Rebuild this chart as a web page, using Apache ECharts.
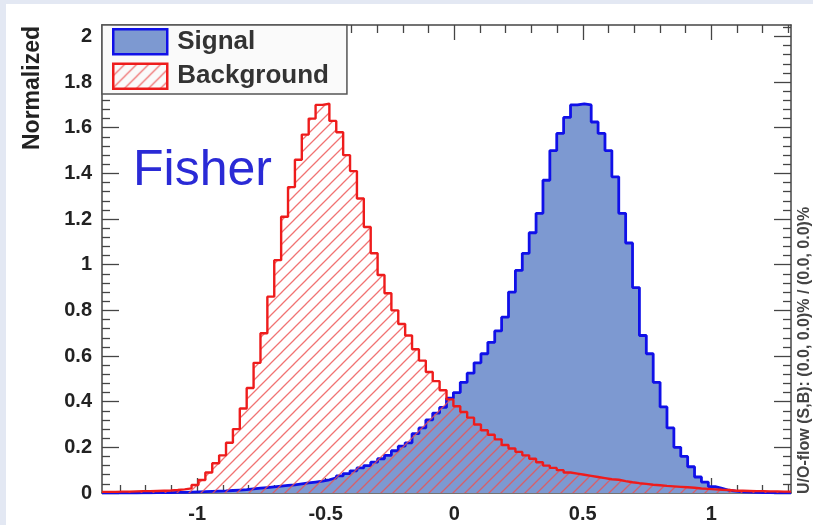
<!DOCTYPE html>
<html>
<head>
<meta charset="utf-8">
<script src="https://cdn.jsdelivr.net/npm/echarts@6/dist/echarts.min.js"></script>
<style>
html,body{margin:0;padding:0;background:#e3e8f3;width:813px;height:525px;overflow:hidden;}
#chart{position:absolute;left:6px;top:4px;width:807px;height:521px;background:#ffffff;}
</style>
</head>
<body>
<div id="chart"></div>
<script>
// ---- histogram range (Fisher discriminant), 100 bins ----
const xMin = -1.37;
const xMax = 1.31;
const nBins = 100;

// ---- bin contents ----
const signal = [
  0.000,0.000,0.000,0.000,0.000,0.001,0.001,0.002,0.002,0.002,
  0.003,0.003,0.004,0.005,0.006,0.007,0.008,0.009,0.011,0.013,
  0.015,0.018,0.021,0.024,0.027,0.030,0.033,0.036,0.040,0.044,
  0.048,0.052,0.058,0.066,0.075,0.085,0.097,0.110,0.120,0.135,
  0.150,0.165,0.185,0.205,0.220,0.260,0.285,0.320,0.350,0.375,
  0.415,0.440,0.485,0.525,0.570,0.610,0.660,0.710,0.770,0.880,
  0.975,1.050,1.140,1.225,1.370,1.500,1.575,1.645,1.700,1.705,
  1.700,1.625,1.575,1.500,1.385,1.225,1.095,0.900,0.690,0.610,
  0.485,0.377,0.285,0.200,0.160,0.115,0.070,0.048,0.028,0.020,
  0.012,0.008,0.005,0.004,0.003,0.002,0.002,0.001,0.001,0.001
];
const background = [
  0.005,0.005,0.006,0.006,0.007,0.008,0.008,0.009,0.010,0.011,
  0.013,0.016,0.020,0.035,0.057,0.090,0.130,0.165,0.220,0.280,
  0.370,0.460,0.570,0.700,0.860,1.020,1.210,1.340,1.460,1.570,
  1.640,1.700,1.705,1.630,1.580,1.480,1.410,1.290,1.165,1.050,
  0.955,0.875,0.800,0.740,0.690,0.630,0.580,0.530,0.490,0.450,
  0.410,0.380,0.355,0.330,0.300,0.275,0.255,0.235,0.210,0.195,
  0.180,0.165,0.150,0.135,0.120,0.110,0.100,0.090,0.085,0.080,
  0.075,0.070,0.065,0.060,0.058,0.052,0.047,0.043,0.040,0.036,
  0.034,0.031,0.029,0.027,0.025,0.023,0.020,0.018,0.016,0.014,
  0.013,0.010,0.010,0.009,0.008,0.008,0.007,0.007,0.006,0.006
];

// ---- axes / ticks ----
const yMin = 0;
const yMax = 2.05;
const xMajorTicks = [-1, -0.5, 0, 0.5, 1];
const xMinorTicks = [-1.3,-1.2,-1.1,-0.9,-0.8,-0.7,-0.6,-0.4,-0.3,-0.2,-0.1,
                     0.1,0.2,0.3,0.4,0.6,0.7,0.8,0.9,1.1,1.2,1.3];
const yMajorTicks = [0, 0.2, 0.4, 0.6, 0.8, 1, 1.2, 1.4, 1.6, 1.8, 2];
const yMinorTicks = [];
for (let i = 1; i <= 51; i++) { if (i % 5 !== 0) yMinorTicks.push(+(i * 0.04).toFixed(2)); }

const seriesNames = ['Signal', 'Background'];
const methodLabel = 'Fisher';
const yTitle = 'Normalized';
const overflowText = 'U/O-flow (S,B): (0.0, 0.0)% / (0.0, 0.0)%';

// build histogram step points at bin edges
function histPoints(vals) {
  const w = (xMax - xMin) / nBins;
  const pts = vals.map((v, i) => [xMin + i * w, v]);
  pts.push([xMax, vals[vals.length - 1]]);
  return pts;
}

// hatch pattern for background
const hatch = document.createElement('canvas');
hatch.width = 12; hatch.height = 12;
(function () {
  const c = hatch.getContext('2d');
  c.strokeStyle = 'rgba(238,80,80,0.8)';
  c.lineWidth = 1.3;
  c.beginPath();
  c.moveTo(-2, 14); c.lineTo(14, -2);
  c.moveTo(-2, 2); c.lineTo(2, -2);
  c.moveTo(10, 14); c.lineTo(14, 10);
  c.stroke();
})();
const hatchFill = { image: hatch, repeat: 'repeat' };

const frameColor = '#454545';
const sigFill = '#7d99d1';
const sigLine = '#1010e8';
const bkgLine = '#ee1c1c';
const labelFont = { fontSize: 20, fontWeight: 'bold', color: '#222', fontFamily: 'Liberation Sans' };

function xAx(pos, major, showLine, showLabel) {
  return {
    type: 'value', min: xMin, max: xMax, position: pos,
    axisLine: { show: showLine, onZero: false, lineStyle: { color: frameColor, width: 1.5 } },
    axisTick: { show: true, inside: true, length: major ? 15 : 8, customValues: major ? xMajorTicks : xMinorTicks,
                lineStyle: { color: frameColor, width: 1.3 } },
    axisLabel: Object.assign({ show: showLabel, customValues: xMajorTicks, margin: 11 }, labelFont),
    splitLine: { show: false }
  };
}
function yAx(pos, major, showLine, showLabel) {
  return {
    type: 'value', min: yMin, max: yMax, position: pos,
    axisLine: { show: showLine, onZero: false, lineStyle: { color: frameColor, width: 1.5 } },
    axisTick: { show: true, inside: true, length: major ? 17 : 8, customValues: major ? yMajorTicks : yMinorTicks,
                lineStyle: { color: frameColor, width: 1.3 } },
    axisLabel: Object.assign({ show: showLabel, customValues: yMajorTicks, margin: 10 }, labelFont),
    splitLine: { show: false }
  };
}

const chart = echarts.init(document.getElementById('chart'), null, { renderer: 'canvas' });
chart.setOption({
  animation: false,
  backgroundColor: '#ffffff',
  grid: { left: 96, top: 21, right: 22, bottom: 32, containLabel: false },
  xAxis: [xAx('bottom', true, true, true), xAx('bottom', false, false, false),
          xAx('top', true, true, false), xAx('top', false, false, false)],
  yAxis: [yAx('left', true, true, true), yAx('left', false, false, false),
          yAx('right', true, true, false), yAx('right', false, false, false)],
  legend: {
    left: 96, top: 21, orient: 'vertical',
    itemWidth: 54, itemHeight: 25, itemGap: 7,
    padding: [3, 18, 4, 10],
    backgroundColor: '#fafafa', borderColor: '#555', borderWidth: 1.5, borderRadius: 0,
    textStyle: { fontSize: 26, fontWeight: 'bold', color: '#333', fontFamily: 'Liberation Sans', padding: [0, 0, 0, 5] },
    data: [
      { name: seriesNames[0], icon: 'rect', itemStyle: { color: sigFill, borderColor: sigLine, borderWidth: 2.5 } },
      { name: seriesNames[1], icon: 'rect', itemStyle: { color: hatchFill, borderColor: bkgLine, borderWidth: 2.5 } }
    ],
    z: 10
  },
  graphic: [
    { type: 'text', x: 127, y: 167, z: 20,
      style: { text: methodLabel, fill: '#2a2ad6', font: '50px "Liberation Sans"', verticalAlign: 'middle', align: 'left' } },
    { type: 'text', x: 27, y: 84, rotation: Math.PI / 2, z: 20,
      style: { text: yTitle, fill: '#222', font: 'bold 23px "Liberation Sans"', verticalAlign: 'middle', align: 'center' } },
    { type: 'text', x: 799, y: 490, rotation: Math.PI / 2, z: 20,
      style: { text: overflowText, fill: '#444', font: 'bold 16px "Liberation Sans"', verticalAlign: 'middle', align: 'left' } }
  ],
  series: [
    {
      name: seriesNames[0], type: 'line', step: 'end', xAxisIndex: 0, yAxisIndex: 0,
      data: histPoints(signal), symbol: 'none', z: 2,
      lineStyle: { color: sigLine, width: 2.8 }, itemStyle: { color: sigFill },
      areaStyle: { color: sigFill, opacity: 1 }
    },
    {
      name: seriesNames[1], type: 'line', step: 'end', xAxisIndex: 0, yAxisIndex: 0,
      data: histPoints(background), symbol: 'none', z: 3,
      lineStyle: { color: bkgLine, width: 2.4 }, itemStyle: { color: bkgLine },
      areaStyle: { color: hatchFill, opacity: 1 }
    }
  ]
});
</script>
</body>
</html>
